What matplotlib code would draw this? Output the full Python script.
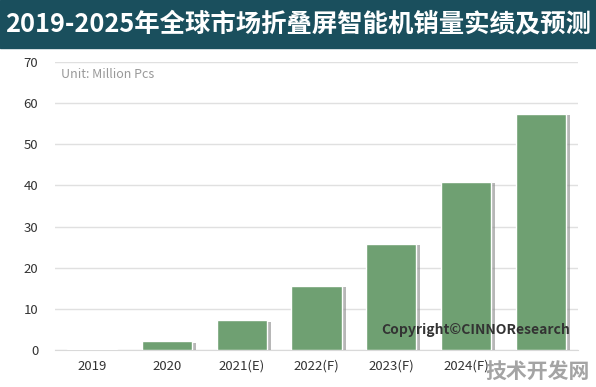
import matplotlib.pyplot as plt
import matplotlib.patheffects as pe

plt.rcParams['font.family'] = ['Noto Sans CJK SC', 'DejaVu Sans']

# data
years = ['2019', '2020', '2021(E)', '2022(F)', '2023(F)', '2024(F)', '2025(F)']
sales = [0.3, 2.2, 7.3, 15.6, 25.8, 40.9, 57.4]
shown_labels = ['2019', '2020', '2021(E)', '2022(F)', '2023(F)', '2024(F)', '']

fig = plt.figure(figsize=(5.96, 3.87), dpi=100)

# title banner
fig.patches.append(plt.Rectangle((0, 0.876), 1, 0.124, transform=fig.transFigure,
                                 color='#1a4f5d', zorder=0))
fig.text(0.5, 0.938, '2019-2025年全球市场折叠屏智能机销量实绩及预测', color='white',
         fontsize=18.3, fontweight='bold', ha='center', va='center')

ax = fig.add_axes([0.092, 0.095, 0.878, 0.745])
x = range(len(years))
bars = ax.bar(x, sales, width=0.67, color='#6fa072', edgecolor='white', linewidth=1,
              zorder=3)
for b in bars:
    b.set_path_effects([pe.SimplePatchShadow(offset=(3, -1), shadow_rgbFace='#888888',
                                             alpha=0.6), pe.Normal()])

ax.set_ylim(0, 70)
ax.set_xlim(-0.5, len(years) - 0.5)
ax.set_yticks(range(0, 71, 10))
ax.set_xticks(list(x))
ax.set_xticklabels(shown_labels)
ax.grid(axis='y', color='#e0e0e0', linewidth=1, zorder=0)
ax.tick_params(length=0, labelsize=9.5, colors='#333333')
ax.tick_params(axis='x', pad=7)
ax.tick_params(axis='y', pad=12)
for s in ['top', 'right', 'left']:
    ax.spines[s].set_visible(False)
ax.spines['bottom'].set_color('#d9d9d9')

ax.text(0.012, 0.955, 'Unit: Million Pcs', transform=ax.transAxes, fontsize=9,
        color='#999999', va='center')
ax.text(0.985, 0.07, 'Copyright©CINNOResearch', transform=ax.transAxes, fontsize=10,
        fontweight='bold', color='#333333', ha='right', va='center', zorder=5)

# watermark in the bottom corner
fig.text(0.99, 0.04, '技术开发网', fontsize=15, fontweight='bold', color='#9a9a9a',
         ha='right', va='center', alpha=0.9)

fig.savefig('out.png', dpi=100)
